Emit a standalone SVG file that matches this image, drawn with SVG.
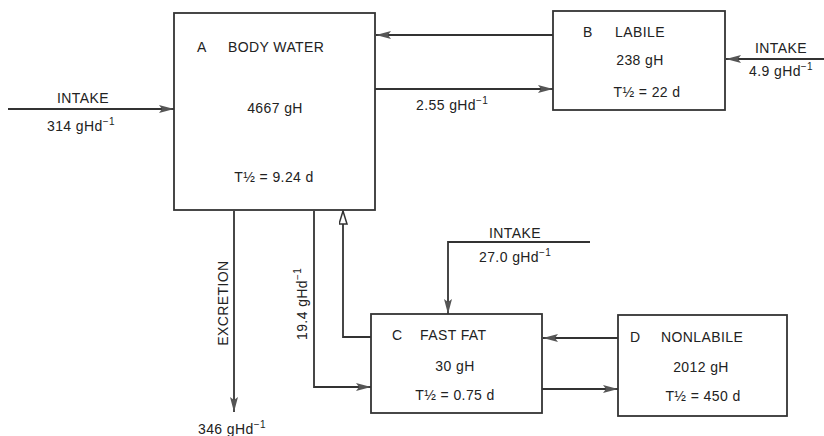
<svg xmlns="http://www.w3.org/2000/svg" width="824" height="436" viewBox="0 0 824 436">
<defs>
<style>
.box{fill:#fff;stroke:#333;stroke-width:1.8}
.ln{fill:none;stroke:#333;stroke-width:1.8}
text{font-family:"Liberation Sans",Arial,sans-serif;font-size:14px;fill:#222;letter-spacing:0.4px}
.m{text-anchor:middle}
.sup{font-size:10px}
</style>
<marker id="ah" markerUnits="userSpaceOnUse" markerWidth="16" markerHeight="10" refX="15" refY="4" orient="auto">
<path d="M0,0 L15,4 L0,8 L3,4 z" fill="#555"/>
</marker>
<marker id="ahh" markerUnits="userSpaceOnUse" markerWidth="16" markerHeight="10" refX="14" refY="4.5" orient="auto">
<path d="M1,0.5 L14,4.5 L1,8.5 z" fill="#fff" stroke="#333" stroke-width="1.5"/>
</marker>
</defs>
<g id="connectors">
<path class="ln" d="M8,109 H174" marker-end="url(#ah)"/>
<path class="ln" d="M553,35 H376" marker-end="url(#ah)"/>
<path class="ln" d="M375,89 H553" marker-end="url(#ah)"/>
<path class="ln" d="M824,59 H726" marker-end="url(#ah)"/>
<path class="ln" d="M234,211 V412" marker-end="url(#ah)"/>
<path class="ln" d="M314,211 V387 H371" marker-end="url(#ah)"/>
<path class="ln" d="M371,337 H343 V211" marker-end="url(#ahh)"/>
<path class="ln" d="M590,242 H448 V314" marker-end="url(#ah)"/>
<path class="ln" d="M618,338 H543" marker-end="url(#ah)"/>
<path class="ln" d="M542,389 H618" marker-end="url(#ah)"/>
<text class="m" x="83" y="103">INTAKE</text>
<text x="47" y="131">314 gHd<tspan class="sup" dy="-6">−1</tspan></text>
<text x="416" y="110">2.55 gHd<tspan class="sup" dy="-6">−1</tspan></text>
<text class="m" x="781" y="53">INTAKE</text>
<text x="749" y="76">4.9 gHd<tspan class="sup" dy="-6">−1</tspan></text>
<text class="m" transform="translate(228,303) rotate(-90)">EXCRETION</text>
<text transform="translate(307,340) rotate(-90)">19.4 gHd<tspan class="sup" dy="-6">−1</tspan></text>
<text x="198" y="434">346 gHd<tspan class="sup" dy="-6">−1</tspan></text>
<text class="m" x="515" y="238">INTAKE</text>
<text x="479" y="262">27.0 gHd<tspan class="sup" dy="-6">−1</tspan></text>
</g>
<g id="nodeA">
<rect class="box" x="174" y="13" width="201" height="197"/>
<text x="197" y="52">A</text>
<text x="228" y="52">BODY WATER</text>
<text class="m" x="275" y="113">4667 gH</text>
<text class="m" x="274" y="182">T½ = 9.24 d</text>
</g>
<g id="nodeB">
<rect class="box" x="553" y="11" width="172" height="99"/>
<text x="583" y="37">B</text>
<text x="615" y="37">LABILE</text>
<text class="m" x="640" y="65">238 gH</text>
<text class="m" x="647" y="97">T½ = 22 d</text>
</g>
<g id="nodeC">
<rect class="box" x="371" y="314" width="171" height="99"/>
<text x="392" y="340">C</text>
<text x="420" y="340">FAST FAT</text>
<text class="m" x="455" y="371">30 gH</text>
<text class="m" x="455" y="400">T½ = 0.75 d</text>
</g>
<g id="nodeD">
<rect class="box" x="618" y="315" width="169" height="101"/>
<text x="630" y="342">D</text>
<text x="661" y="342">NONLABILE</text>
<text class="m" x="701" y="372">2012 gH</text>
<text class="m" x="703" y="401">T½ = 450 d</text>
</g>
</svg>
